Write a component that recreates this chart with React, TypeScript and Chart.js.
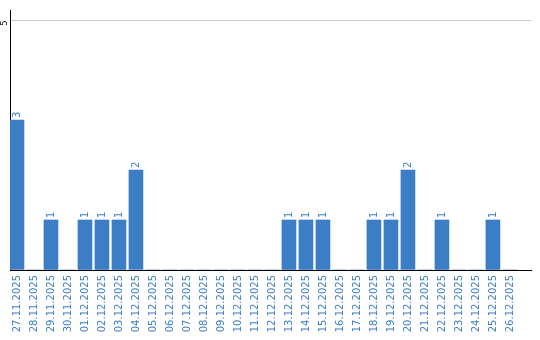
import React, { useEffect, useRef } from "react";
import { Chart, registerables } from "chart.js";

Chart.register(...registerables);

const categories: string[] = [
  "27.11.2025", "28.11.2025", "29.11.2025", "30.11.2025", "01.12.2025",
  "02.12.2025", "03.12.2025", "04.12.2025", "05.12.2025", "06.12.2025",
  "07.12.2025", "08.12.2025", "09.12.2025", "10.12.2025", "11.12.2025",
  "12.12.2025", "13.12.2025", "14.12.2025", "15.12.2025", "16.12.2025",
  "17.12.2025", "18.12.2025", "19.12.2025", "20.12.2025", "21.12.2025",
  "22.12.2025", "23.12.2025", "24.12.2025", "25.12.2025", "26.12.2025",
];

const counts: number[] = [
  3, 0, 1, 0, 1, 1, 1, 2, 0, 0,
  0, 0, 0, 0, 0, 0, 1, 1, 1, 0,
  0, 1, 1, 2, 0, 1, 0, 0, 1, 0,
];

const yTickValues: number[] = [0, 5];
const yTickLabels: string[] = ["", "5"];

const BLUE = "#3c7ec5";
const FONT = "'DejaVu Sans', Verdana, sans-serif";

const labelPlugin = {
  id: "valueLabels",
  afterDatasetsDraw(chart: any) {
    const ctx = chart.ctx as CanvasRenderingContext2D;
    const meta = chart.getDatasetMeta(0);
    ctx.save();
    ctx.fillStyle = BLUE;
    ctx.font = `10px ${FONT}`;
    ctx.textAlign = "left";
    ctx.textBaseline = "middle";
    meta.data.forEach((bar: any, i: number) => {
      const v = counts[i];
      if (!v) return;
      ctx.save();
      ctx.translate(bar.x, bar.y - 2);
      ctx.rotate(-Math.PI / 2);
      ctx.fillText(String(v), 0, 0.5);
      ctx.restore();
    });
    // rotated y tick labels
    const ys = chart.scales.y;
    ctx.fillStyle = "#000";
    ctx.font = `8px ${FONT}`;
    ctx.textAlign = "center";
    yTickValues.forEach((tv, i) => {
      const t = yTickLabels[i];
      if (!t) return;
      ctx.save();
      ctx.translate(chart.chartArea.left - 5, ys.getPixelForValue(tv) + 3);
      ctx.rotate(-Math.PI / 2);
      ctx.fillText(t, 0, 0);
      ctx.restore();
    });
    ctx.restore();
  },
};

export default function App() {
  const ref = useRef<HTMLCanvasElement>(null);
  useEffect(() => {
    document.body.style.margin = "0";
    const canvas = ref.current!;
    const chart = new Chart(canvas, {
      type: "bar",
      data: {
        datasets: [
          {
            data: counts.map((v, i) => ({ x: i, y: v })),
            backgroundColor: BLUE,
            borderWidth: 0,
            barThickness: 14,
          },
        ],
      },
      options: {
        responsive: false,
        animation: false,
        events: [],
        layout: { padding: { left: 10, top: 10, right: 9, bottom: 0 } },
        plugins: { legend: { display: false }, tooltip: { enabled: false } },
        scales: {
          x: {
            type: "linear",
            offset: false,
            min: -0.41,
            max: 30.24,
            afterBuildTicks: (axis: any) => {
              axis.ticks = categories.map((_, i) => ({ value: i }));
            },
            afterFit: (scale: any) => {
              scale.height = 70;
            },
            grid: { display: false, drawTicks: false, offset: false },
            border: { display: true, color: "#000", width: 1 },
            ticks: {
              autoSkip: false,
              minRotation: 90,
              maxRotation: 90,
              padding: 5,
              color: BLUE,
              font: { family: FONT, size: 10 },
              callback: (v: any) => categories[Math.round(Number(v))] ?? "",
            },
          },
          y: {
            type: "linear",
            min: 0,
            max: 5.2,
            afterBuildTicks: (axis: any) => {
              axis.ticks = yTickValues.map((v) => ({ value: v }));
            },
            afterFit: (scale: any) => {
              scale.width = 0;
            },
            grid: {
              drawTicks: false,
              color: (c: any) => (c.tick && c.tick.value === 5 ? "#c8c8c8" : "rgba(0,0,0,0)"),
              lineWidth: 1,
            },
            border: { display: true, color: "#000", width: 1 },
            ticks: { display: false },
          },
        },
      },
      plugins: [labelPlugin],
    });
    return () => chart.destroy();
  }, []);
  return <canvas ref={ref} width={540} height={340} style={{ display: "block" }} />;
}
